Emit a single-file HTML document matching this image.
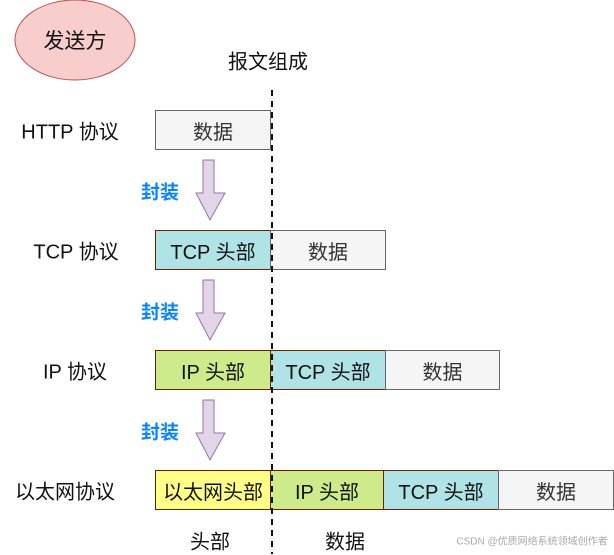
<!DOCTYPE html>
<html><head><meta charset="utf-8"><style>
body{margin:0;width:614px;height:554px;background:#fff;position:relative;overflow:hidden;font-family:"Liberation Sans","Noto Sans CJK SC",sans-serif;}
.t{position:absolute;font-size:20px;color:#111;white-space:nowrap;transform:translate(-50%,-50%);}
.b{position:absolute;box-sizing:border-box;height:40px;display:flex;align-items:center;justify-content:center;font-size:20px;color:#111;white-space:nowrap;}
.g{background:#f5f5f5;border:1px solid #666;color:#333}
.c{background:#b0e3e6;border:1px solid #6d1f00}
.ip{background:#cdeb8b;border:1px solid #6d1f00}
.e{background:#ffff88;border:1px solid #6d1f00}
.f{position:absolute;color:#0a84ff;font-weight:bold;font-size:19px;transform:translate(-50%,-50%)}
</style></head><body>
<svg width="614" height="554" style="position:absolute;left:0;top:0">
<ellipse cx="75" cy="40" rx="60" ry="40" fill="#f8cecc" stroke="#b85450" stroke-width="1"/>
<g fill="#e1d5e7" stroke="#9673a6">
<polygon points="203,160 214,160 214,193 225,193 210,220 196,193 203,193"/>
<polygon points="203,280 214,280 214,313 225,313 210,340 196,313 203,313"/>
<polygon points="203,400 214,400 214,433 225,433 210,460 196,433 203,433"/>
</g>
</svg>
<div class="t" style="left:75px;top:40px;font-size:21px">发送方</div>
<div class="t" style="left:268px;top:60px">报文组成</div>
<div class="t" style="left:70px;top:130px">HTTP 协议</div>
<div class="t" style="left:76px;top:250px">TCP 协议</div>
<div class="t" style="left:75px;top:370px">IP 协议</div>
<div class="t" style="left:65px;top:490px">以太网协议</div>
<div class="f" style="left:160px;top:191px">封装</div>
<div class="f" style="left:160px;top:311px">封装</div>
<div class="f" style="left:160px;top:431px">封装</div>
<div class="b g" style="left:155px;top:110px;width:116px">数据</div>
<div class="b c" style="left:155px;top:230px;width:116px">TCP 头部</div>
<div class="b g" style="left:270px;top:230px;width:116px">数据</div>
<div class="b ip" style="left:155px;top:350px;width:116px">IP 头部</div>
<div class="b c" style="left:270px;top:350px;width:116px">TCP 头部</div>
<div class="b g" style="left:385px;top:350px;width:115px">数据</div>
<div class="b e" style="left:155px;top:470px;width:116px">以太网头部</div>
<div class="b ip" style="left:270px;top:470px;width:114px">IP 头部</div>
<div class="b c" style="left:383px;top:470px;width:116px">TCP 头部</div>
<div class="b g" style="left:498px;top:470px;width:116px">数据</div>
<div class="t" style="left:210px;top:540px">头部</div>
<div class="t" style="left:345px;top:540px">数据</div>
<div class="t" style="left:532px;top:540px;font-size:10px;color:#aaa">CSDN @优质网络系统领域创作者</div>
<svg width="614" height="554" style="position:absolute;left:0;top:0">
<line x1="272" y1="90" x2="272" y2="554" stroke="#111" stroke-width="2" stroke-dasharray="6,5"/>
</svg>
</body></html>
